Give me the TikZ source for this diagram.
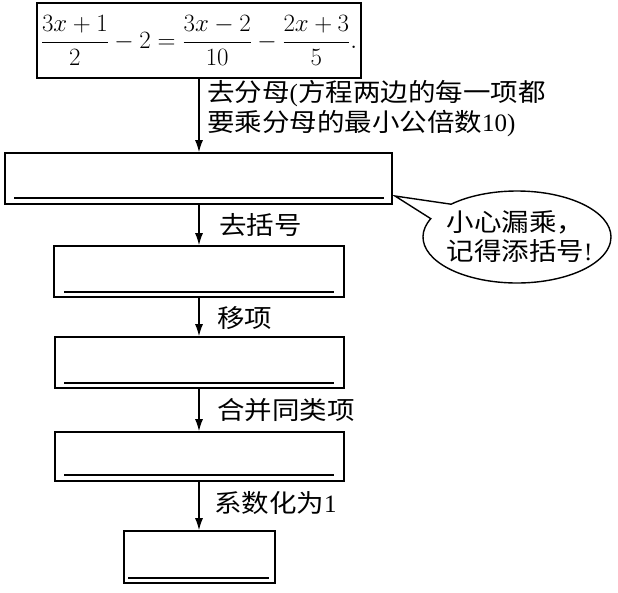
\documentclass[tikz,border=0pt]{standalone}
\usepackage{fontspec}
\setmainfont{Liberation Serif}
\newfontfamily\cjk[FakeStretch=1.1]{Noto Sans CJK SC}
\usetikzlibrary{arrows.meta,shapes.callouts}
\tikzset{
  box/.style={draw, line width=1.6pt, inner sep=0pt, rectangle},
  arr/.style={draw, line width=1.3pt, -{Latex[length=12pt,width=8pt]}},
  uline/.style={line width=2pt},
  lab/.style={anchor=west, inner sep=0pt, font=\fontsize{25}{30}\selectfont\cjk, align=left},
}
\begin{document}
\begin{tikzpicture}[x=1pt,y=-1pt]
\path[use as bounding box] (0,0) rectangle (618,592);

\node[box, minimum width=324pt, minimum height=75pt] (b1) at (199,40.5)
  {\fontsize{23}{28}\selectfont $\displaystyle \frac{3x+1}{2}-2=\frac{3x-2}{10}-\frac{2x+3}{5}.$};
\node[box, minimum width=387pt, minimum height=51pt] (b2) at (198.5,178.5) {};
\node[box, minimum width=290pt, minimum height=51pt] (b3) at (199,271.5) {};
\node[box, minimum width=289pt, minimum height=51pt] (b4) at (199.5,362.5) {};
\node[box, minimum width=289pt, minimum height=49pt] (b5) at (199.5,456.5) {};
\node[box, minimum width=151pt, minimum height=52pt] (b6) at (199.5,557) {};

\draw[uline] ([xshift=10pt,yshift=7pt]b2.south west) -- ([xshift=-9pt,yshift=7pt]b2.south east);
\draw[uline] ([xshift=11pt,yshift=6pt]b3.south west) -- ([xshift=-11pt,yshift=6pt]b3.south east);
\draw[uline] ([xshift=10pt,yshift=6pt]b4.south west) -- ([xshift=-11pt,yshift=6pt]b4.south east);
\draw[uline] ([xshift=10pt,yshift=7pt]b5.south west) -- ([xshift=-11pt,yshift=7pt]b5.south east);
\draw[uline] ([xshift=5pt,yshift=6pt]b6.south west) -- ([xshift=-7pt,yshift=6pt]b6.south east);

\draw[arr] (b1.south) -- (b1.south |- b2.north);
\draw[arr] (b2.south -| b1.south) -- (b1.south |- b3.north);
\draw[arr] (b3.south -| b1.south) -- (b1.south |- b4.north);
\draw[arr] (b4.south -| b1.south) -- (b1.south |- b5.north);
\draw[arr] (b5.south -| b1.south) -- (b1.south |- b6.north);

\node[lab] (l1) at (207,108.5) {去分母{\rmfamily (}方程两边的每一项都\\要乘分母的最小公倍数{\rmfamily 10)}};
\node[lab] (l2) at (219,225) {去括号};
\node[lab] (l3) at (217,318) {移项};
\node[lab] (l4) at (217,410) {合并同类项};
\node[lab] (l5) at (214,503) {系数化为{\rmfamily 1}};

\coordinate (tip) at (395,196);
\node[draw, ellipse callout, line width=1.4pt, minimum width=188pt, minimum height=92pt,
  inner sep=0pt, callout absolute pointer={(tip)}, callout pointer arc=22] (bub) at (517,237) {};
\node[inner sep=0pt, align=left, font=\fontsize{25}{29}\selectfont\cjk] (bt) at (519.5,236.5)
  {小心漏乘，\\记得添括号{\rmfamily !}};
\end{tikzpicture}
\end{document}
